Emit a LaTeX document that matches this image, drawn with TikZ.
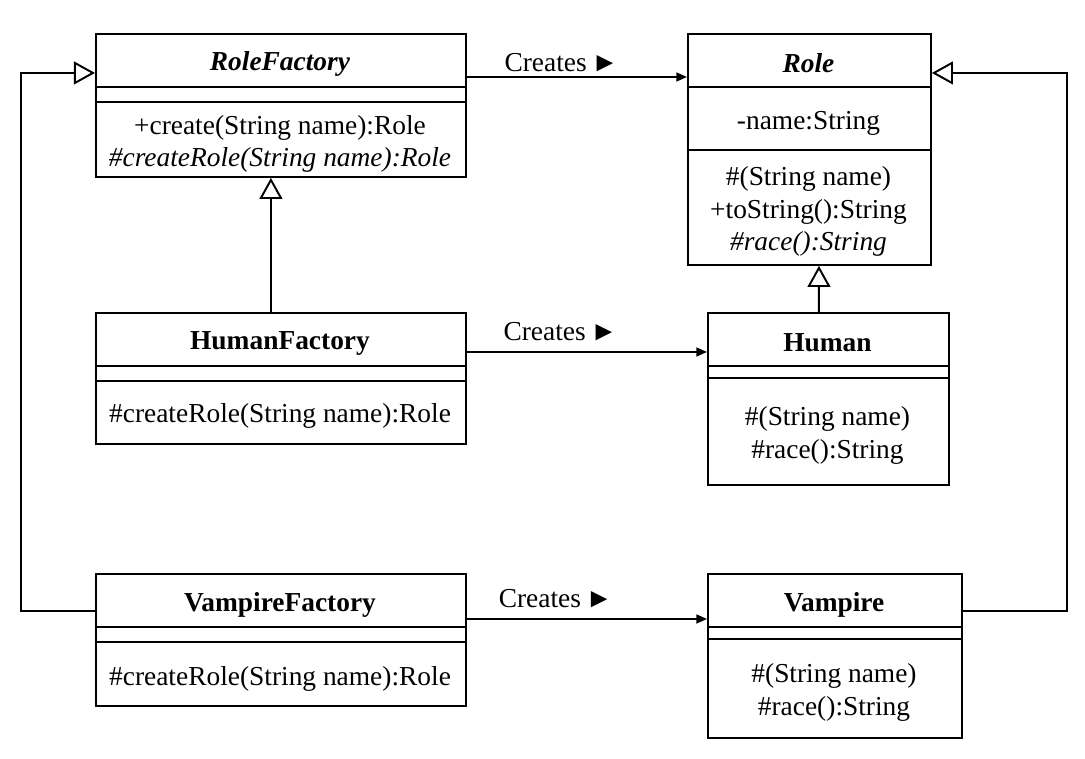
\documentclass[tikz,border=0pt]{standalone}
\usepackage{fontspec}
\setmainfont{Liberation Serif}
\usetikzlibrary{arrows.meta}

\begin{document}
\begin{tikzpicture}
  [
    x=0.02cm, y=-0.02cm,
    every node/.style={font=\fontsize{15.6}{18.5}\selectfont},
    classbox/.style={draw, line width=1.1pt, anchor=north west, inner sep=0pt},
    classname/.style={font=\fontsize{15.6}{18.5}\selectfont\bfseries},
    members/.style={align=center},
    rule/.style={line width=1.1pt},
    createslabel/.style={above, inner sep=2.5pt},
    creates/.style={line width=1.1pt, -{Triangle[length=6pt, width=5pt]}},
    inherits/.style={line width=1.1pt, -{Triangle[open, length=12pt, width=13pt]}}
  ]
  \useasboundingbox (0,0) rectangle (1085,759);

  % factories
  \node[classbox, minimum width=7.4cm, minimum height=2.86cm] (rolefactory) at (95,33) {};
  \node[classbox, minimum width=7.4cm, minimum height=2.62cm] (humanfactory) at (95,312) {};
  \node[classbox, minimum width=7.4cm, minimum height=2.64cm] (vampirefactory) at (95,573) {};

  % products
  \node[classbox, minimum width=4.86cm, minimum height=4.62cm] (role) at (687,33) {};
  \node[classbox, minimum width=4.82cm, minimum height=3.44cm] (human) at (707,312) {};
  \node[classbox, minimum width=5.08cm, minimum height=3.28cm] (vampire) at (707,573) {};

  \draw[rule] (rolefactory.west |- 0,87) -- (rolefactory.east |- 0,87)
              (rolefactory.west |- 0,102) -- (rolefactory.east |- 0,102);
  \draw[rule] (humanfactory.west |- 0,366) -- (humanfactory.east |- 0,366)
              (humanfactory.west |- 0,381) -- (humanfactory.east |- 0,381);
  \draw[rule] (vampirefactory.west |- 0,627) -- (vampirefactory.east |- 0,627)
              (vampirefactory.west |- 0,642) -- (vampirefactory.east |- 0,642);
  \draw[rule] (role.west |- 0,87) -- (role.east |- 0,87)
              (role.west |- 0,150) -- (role.east |- 0,150);
  \draw[rule] (human.west |- 0,366) -- (human.east |- 0,366)
              (human.west |- 0,378) -- (human.east |- 0,378);
  \draw[rule] (vampire.west |- 0,627) -- (vampire.east |- 0,627)
              (vampire.west |- 0,639) -- (vampire.east |- 0,639);

  \node[classname] (rolefactory-title) at (280,64) {\textit{RoleFactory}};
  \node[members] (rolefactory-ops) at (280,144) {+create(String name):Role\\\textit{\#createRole(String name):Role}};
  \node[classname] (humanfactory-title) at (280,343) {HumanFactory};
  \node[members] (humanfactory-ops) at (280,416) {\#createRole(String name):Role};
  \node[classname] (vampirefactory-title) at (280,605) {VampireFactory};
  \node[members] (vampirefactory-ops) at (280,679) {\#createRole(String name):Role};

  \node[classname] (role-title) at (808.5,63) {\textit{Role}};
  \node[members] (role-attrs) at (808.5,123) {-name:String};
  \node[members] (role-ops) at (808.5,211.5) {\#(String name)\\+toString():String\\\textit{\#race():String}};
  \node[classname] (human-title) at (827.5,343) {Human};
  \node[members] (human-ops) at (827.5,435.5) {\#(String name)\\\#race():String};
  \node[classname] (vampire-title) at (834,605) {Vampire};
  \node[members] (vampire-ops) at (834,692.5) {\#(String name)\\\#race():String};

  % creates
  \draw[creates] ([yshift=-0.88cm]rolefactory.north east) -- node[createslabel, pos=0.43] (creates-role) {Creates\,►} ([yshift=-0.88cm]role.north west);
  \draw[creates] ([yshift=-0.8cm]humanfactory.north east) -- node[createslabel, pos=0.39, yshift=0.12cm] (creates-human) {Creates\,►} ([yshift=-0.8cm]human.north west);
  \draw[creates] ([yshift=-0.92cm]vampirefactory.north east) -- node[createslabel, pos=0.37, yshift=0.12cm] (creates-vampire) {Creates\,►} ([yshift=-0.92cm]vampire.north west);

  % inheritance
  \draw[inherits] ([xshift=-0.2cm]humanfactory.north) -- ([xshift=-0.2cm]rolefactory.south);
  \draw[inherits] ([xshift=-0.19cm]human.north) -- ([xshift=0.19cm]role.south);
  \draw[inherits] ([yshift=0.58cm]vampirefactory.west) -- ++(-74,0) |- ([yshift=0.65cm]rolefactory.west);
  \draw[inherits] ([yshift=0.9cm]vampire.east) -- ++(104,0) |- ([yshift=1.53cm]role.east);
\end{tikzpicture}
\end{document}
